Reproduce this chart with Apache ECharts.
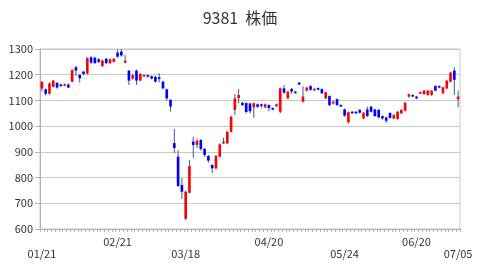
<!DOCTYPE html>
<html><head><meta charset="utf-8">
<script src="https://cdn.jsdelivr.net/npm/echarts@6/dist/echarts.min.js"></script>
<style>html,body{margin:0;padding:0;background:#fff}#c{width:480px;height:267px}</style>
</head><body><div id="c"></div>
<script>
const dates = ['01/21','01/24','01/25','01/26','01/27','01/28','01/31',
'02/01','02/02','02/03','02/04','02/07','02/08','02/09','02/10','02/14','02/15','02/16','02/17','02/18','02/21','02/22','02/24','02/25','02/28',
'03/01','03/02','03/03','03/04','03/07','03/08','03/09','03/10','03/11','03/14','03/15','03/16','03/17','03/18','03/22','03/23','03/24','03/25','03/28','03/29','03/30','03/31',
'04/01','04/04','04/05','04/06','04/07','04/08','04/11','04/12','04/13','04/14','04/15','04/18','04/19','04/20','04/21','04/22','04/25','04/26','04/27','04/28',
'05/02','05/06','05/09','05/10','05/11','05/12','05/13','05/16','05/17','05/18','05/19','05/20','05/23','05/24','05/25','05/26','05/27','05/30','05/31',
'06/01','06/02','06/03','06/06','06/07','06/08','06/09','06/10','06/13','06/14','06/15','06/16','06/17','06/20','06/21','06/22','06/23','06/24','06/27','06/28','06/29','06/30',
'07/01','07/04','07/05'];
const upperLabels = ['02/21','04/20','06/20'];
const lowerLabels = ['01/21','03/18','05/24','07/05'];
const yTicks = [600,700,800,900,1000,1100,1200,1300];

const opens = [1146,1143,1126,1153,1168,1162,1158,1162,1173,1229,
1199,1212,1205,1268,1266,1260,1234,1262,1245,1250,
1286,1290,1247,1216,1185,1216,1177,1195,1198,1194,
1192,1190,1173,1143,1102,934,881,771,640,741,
940,927,946,911,884,849,836,881,933,933,
978,1063,1109,1091,1090,1088,1073,1085,1085,1073,
1082,1070,1078,1056,1147,1108,1145,1134,1169,1095,
1138,1156,1140,1148,1144,1108,1117,1088,1105,1082,
1065,1015,1056,1056,1063,1030,1065,1076,1065,1063,
1039,1034,1051,1030,1028,1050,1060,1115,1121,1115,
1128,1125,1121,1121,1156,1156,1128,1147,1173,1216,1105];
const closes = [1172,1126,1166,1177,1150,1156,1163,1150,1218,1216,
1186,1203,1264,1247,1245,1250,1255,1245,1260,1262,
1270,1275,1255,1177,1198,1177,1203,1199,1192,1185,
1173,1183,1147,1108,1076,915,767,745,745,845,
927,943,911,888,866,836,884,929,940,978,
1037,1108,1121,1082,1055,1058,1089,1075,1081,1085,
1070,1066,1085,1147,1130,1134,1135,1130,1162,1115,
1150,1141,1145,1142,1128,1132,1082,1095,1082,1078,
1041,1054,1050,1050,1052,1052,1039,1056,1039,1034,
1030,1021,1032,1043,1056,1063,1091,1124,1115,1108,
1132,1138,1138,1138,1138,1150,1151,1177,1208,1180,1115];
const highs = [1176,1146,1170,1180,1172,1165,1166,1165,1222,1235,
1203,1215,1268,1272,1270,1264,1258,1266,1263,1265,
1298,1300,1277,1218,1203,1220,1206,1202,1201,1197,
1195,1206,1176,1146,1105,989,907,798,750,868,
959,952,950,915,888,852,888,933,955,982,
1040,1125,1144,1094,1092,1091,1092,1088,1088,1088,
1085,1073,1088,1150,1160,1137,1148,1137,1172,1155,
1153,1159,1148,1151,1147,1135,1120,1100,1108,1085,
1068,1057,1059,1059,1066,1055,1076,1079,1068,1066,
1042,1037,1054,1046,1059,1066,1094,1127,1124,1118,
1135,1141,1141,1141,1159,1159,1154,1180,1211,1229,1138];
const lows = [1135,1120,1122,1150,1146,1152,1155,1148,1170,1195,
1169,1198,1200,1240,1242,1246,1230,1242,1241,1247,
1266,1270,1244,1160,1180,1160,1175,1192,1189,1182,
1170,1170,1143,1100,1056,895,765,717,635,738,
876,915,905,880,858,818,832,878,930,930,
975,1043,1089,1078,1050,1050,1032,1072,1070,1070,
1058,1062,1075,1050,1126,1105,1125,1127,1160,1092,
1135,1138,1137,1139,1125,1105,1078,1085,1078,1075,
1036,1010,1047,1047,1049,1027,1036,1053,1036,1031,
1025,1012,1029,1027,1025,1047,1057,1110,1112,1105,
1125,1122,1118,1118,1135,1147,1125,1144,1170,1121,1073];

const UP = '#ff0000', DOWN = '#0000ff', WICK = '#3a5f96';
const seriesData = dates.map((d, i) => [i, opens[i], closes[i], lows[i], highs[i]]);

const chart = echarts.init(document.getElementById('c'), null, {renderer: 'canvas'});
const FONT = '"Noto Sans CJK JP", "Noto Sans", sans-serif';
chart.setOption({
  animation: false,
  title: {text: '9381  株価', left: 'center', top: 5,
    textStyle: {fontFamily: FONT, fontSize: 16, fontWeight: 'normal', color: '#333'}},
  grid: {left: 40, right: 20, top: 49, bottom: 38, show: true, borderColor: '#c8c8c8', borderWidth: 1},
  xAxis: {
    type: 'category', data: dates, boundaryGap: true,
    axisLine: {lineStyle: {color: '#b0b0b0'}},
    axisTick: {show: true, interval: 0, length: 3, lineStyle: {color: '#b0b0b0'}},
    axisLabel: {
      interval: (idx, v) => upperLabels.includes(v) || lowerLabels.includes(v),
      formatter: v => lowerLabels.includes(v) ? '\n' + v : v,
      fontFamily: FONT, fontSize: 11, color: '#333', margin: 7, lineHeight: 12
    },
    splitLine: {show: false}
  },
  yAxis: {
    type: 'value', min: 600, max: 1300, interval: 100, scale: true,
    axisLine: {show: true, lineStyle: {color: '#b0b0b0'}},
    axisTick: {show: true, length: 5, lineStyle: {color: '#b0b0b0'}},
    axisLabel: {fontFamily: FONT, fontSize: 11, color: '#333', margin: 7,
      formatter: v => yTicks.includes(v) ? String(v) : ''},
    splitLine: {lineStyle: {color: '#c8c8c8'}}
  },
  series: [{
    type: 'custom',
    data: seriesData,
    encode: {x: 0, y: [1, 2, 3, 4]},
    renderItem: (params, api) => {
      const i = api.value(0), o = api.value(1), c = api.value(2), l = api.value(3), h = api.value(4);
      const pO = api.coord([i, o]), pC = api.coord([i, c]);
      const pL = api.coord([i, l]), pH = api.coord([i, h]);
      const w = api.size([1, 0])[0] * 0.7;
      const top = Math.min(pO[1], pC[1]);
      const hgt = Math.max(1.5, Math.abs(pO[1] - pC[1]));
      return {type: 'group', children: [
        {type: 'line', shape: {x1: pH[0], y1: pH[1], x2: pL[0], y2: pL[1]},
         style: {stroke: WICK, lineWidth: 1}},
        {type: 'rect', shape: {x: pO[0] - w / 2, y: top, width: w, height: hgt},
         style: {fill: c >= o ? UP : DOWN}}
      ]};
    }
  }]
});
</script></body></html>
